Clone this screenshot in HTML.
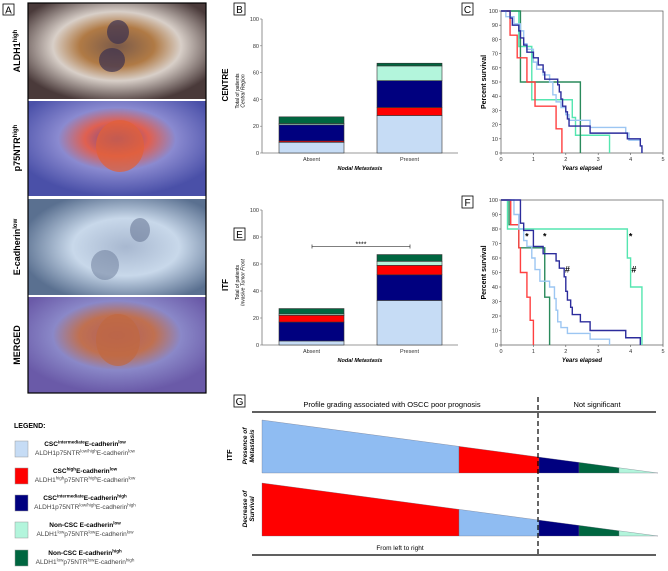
<!DOCTYPE html>
<html><head><meta charset="utf-8"><style>
body{margin:0;background:#fff}
svg{display:block;font-family:"Liberation Sans",sans-serif}
</style></head><body>
<svg id="fig" width="668" height="571" viewBox="0 0 668 571" xmlns="http://www.w3.org/2000/svg">
<defs>
<radialGradient id="g1" cx="50%" cy="45%" r="60%"><stop offset="0" stop-color="#7a5a4a"/><stop offset=".35" stop-color="#b07a45"/><stop offset=".6" stop-color="#d8cfc8"/><stop offset="1" stop-color="#4a3a3a"/></radialGradient>
<radialGradient id="g2" cx="50%" cy="40%" r="60%"><stop offset="0" stop-color="#6a4a9a"/><stop offset=".3" stop-color="#e06050"/><stop offset=".55" stop-color="#8a8ad0"/><stop offset="1" stop-color="#4a50a8"/></radialGradient>
<radialGradient id="g3" cx="55%" cy="50%" r="60%"><stop offset="0" stop-color="#a8b8d0"/><stop offset=".5" stop-color="#c8d8ea"/><stop offset="1" stop-color="#5a7090"/></radialGradient>
<radialGradient id="g4" cx="50%" cy="40%" r="60%"><stop offset="0" stop-color="#b06060"/><stop offset=".35" stop-color="#c07050"/><stop offset=".6" stop-color="#8a88c8"/><stop offset="1" stop-color="#6a5aa8"/></radialGradient>
</defs>
<g>
<rect x="3" y="4" width="11" height="11" fill="none" stroke="#000" stroke-width="0.8"/>
<text x="8.5" y="13.5" font-size="10" text-anchor="middle">A</text>
<rect x="28" y="3" width="178" height="96" fill="url(#g1)"/>
<ellipse cx="118" cy="32" rx="11" ry="12" fill="#3a3050" opacity=".7"/><ellipse cx="112" cy="60" rx="13" ry="12" fill="#3a3050" opacity=".7"/>
<rect x="28" y="101" width="178" height="95" fill="url(#g2)"/>
<ellipse cx="120" cy="146" rx="24" ry="26" fill="#e0603a" opacity=".75"/>
<rect x="28" y="199" width="178" height="96" fill="url(#g3)"/>
<ellipse cx="140" cy="230" rx="10" ry="12" fill="#6a7a98" opacity=".6"/><ellipse cx="105" cy="265" rx="14" ry="15" fill="#6a7a98" opacity=".5"/>
<rect x="28" y="297" width="178" height="96" fill="url(#g4)"/>
<ellipse cx="118" cy="340" rx="22" ry="26" fill="#c06840" opacity=".7"/>
<rect x="28" y="3" width="178" height="390" fill="none" stroke="#000" stroke-width="1.2"/>
<g font-size="9" font-weight="bold" text-anchor="middle">
<text transform="translate(20,51) rotate(-90)">ALDH1<tspan font-size="6" dy="-3">high</tspan></text>
<text transform="translate(20,148) rotate(-90)">p75NTR<tspan font-size="6" dy="-3">high</tspan></text>
<text transform="translate(20,247) rotate(-90)">E-cadherin<tspan font-size="6" dy="-3">low</tspan></text>
<text transform="translate(20,345) rotate(-90)">MERGED</text>
</g>
</g>
<g id="legend" font-size="6.5">
<text x="14" y="428" font-size="7" font-weight="bold">LEGEND:</text>
</g>
<g font-size="10">
<rect x="234" y="3" width="11" height="12" fill="none" stroke="#000" stroke-width=".8"/><text x="239.5" y="13" text-anchor="middle">B</text>
<rect x="462" y="3" width="11" height="12" fill="none" stroke="#000" stroke-width=".8"/><text x="467.5" y="13" text-anchor="middle">C</text>
<rect x="234" y="228" width="11" height="12" fill="none" stroke="#000" stroke-width=".8"/><text x="239.5" y="238" text-anchor="middle">E</text>
<rect x="462" y="196" width="11" height="12" fill="none" stroke="#000" stroke-width=".8"/><text x="467.5" y="206" text-anchor="middle">F</text>
<rect x="234" y="395" width="11" height="12" fill="none" stroke="#000" stroke-width=".8"/><text x="239.5" y="405" text-anchor="middle">G</text>
</g>
<text transform="translate(228,85) rotate(-90)" font-size="8" font-weight="bold" text-anchor="middle">CENTRE</text>
<text transform="translate(228,285) rotate(-90)" font-size="8" font-weight="bold" text-anchor="middle">ITF</text>
<g id="charts"></g>
<g id="gpanel"></g>
</svg>
<script>
const NS="http://www.w3.org/2000/svg";
const C=document.getElementById('charts');
function mk(tag,at,parent,txt){const e=document.createElementNS(NS,tag);for(const k in at)e.setAttribute(k,at[k]);if(txt!==undefined)e.textContent=txt;(parent||C).appendChild(e);return e;}

const barCategories=["Absent","Present"];
const barColors=["#c6dcf5","#ff0000","#00007f","#b3f5dc","#006640"];
const centreLightBlue=[8,28], centreRed=[1,6], centreNavy=[12,20], centreMint=[1,11], centreGreen=[5,2];
const itfLightBlue=[3,33], itfNavy=[14,19], itfRed=[5,7], itfMint=[1,3], itfGreen=[4,5];
const barTicks=[0,20,40,60,80,100];

function barChart(name,yTop,y0,stacks,order,sub,sig){
  const g=mk('g',{});  
  const y=v=>y0-v*(y0-yTop)/100;
  const xl=262,xr=458;
  const bx=i=>[279,377][i];
  mk('line',{x1:xl,y1:yTop,x2:xl,y2:y0,stroke:'#777','stroke-width':.8},g);
  mk('line',{x1:xl,y1:y0,x2:xr,y2:y0,stroke:'#777','stroke-width':.8},g);
  barTicks.forEach(t=>{mk('line',{x1:xl-2,y1:y(t),x2:xl,y2:y(t),stroke:'#777','stroke-width':.6},g);
    mk('text',{x:xl-3,y:y(t)+2,'font-size':5.5,'text-anchor':'end',fill:'#333'},g,t);});
  barCategories.forEach((c,i)=>{
    let acc=0;
    stacks.forEach((s,k)=>{const r=mk('rect',{x:bx(i),y:y(acc+s[i]),width:65,height:y(acc)-y(acc+s[i]),fill:barColors[order[k]],stroke:'#333','stroke-width':.6},g);
      
       acc+=s[i];});
    mk('text',{x:bx(i)+32.5,y:y0+8,'font-size':5.5,'text-anchor':'middle',fill:'#333'},g,c);
  });
  mk('text',{x:360,y:y0+17,'font-size':5.5,'font-weight':'bold','font-style':'italic','text-anchor':'middle'},g,'Nodal Metastasis');
  const t=mk('text',{transform:`translate(239,${(yTop+y0)/2+5}) rotate(-90)`,'font-size':5,'text-anchor':'middle'},g);
  mk('tspan',{x:0,dy:0},t,'Total of patients');mk('tspan',{x:0,dy:5.5,'font-style':'italic'},t,sub);
  if(sig){const sy=y(sig);mk('line',{x1:312,y1:sy,x2:410,y2:sy,stroke:'#333','stroke-width':.7},g);
    mk('line',{x1:312,y1:sy-2,x2:312,y2:sy+2,stroke:'#333','stroke-width':.7},g);mk('line',{x1:410,y1:sy-2,x2:410,y2:sy+2,stroke:'#333','stroke-width':.7},g);
    mk('text',{x:361,y:sy,'font-size':7,'text-anchor':'middle'},g,'****');}
}
barChart('bar-chart-centre',19,153,[centreLightBlue,centreRed,centreNavy,centreMint,centreGreen],[0,1,2,3,4],'Central Region',null);
barChart('bar-chart-itf',210,345,[itfLightBlue,itfNavy,itfRed,itfMint,itfGreen],[0,2,1,3,4],'Invasive Tumor Front',73);

const kmColors={lightblue:"#9cc6f2",navy:"#2c2c9c",mint:"#55e6b0",green:"#2a8a5c",red:"#ff4040"};
const cRedT=[0.28,0.5,0.8,1.05,1.7,1.88], cRedS=[83,67,50,33,17,0];
const cGreenT=[0.6,2.45], cGreenS=[50,0];
const cMintT=[0.55,0.95,2.2,2.3,3.35], cMintS=[75,37.5,25,12.5,0];
const cNavyT=[0.28,0.35,0.55,0.6,0.7,0.8,1.0,1.15,1.3,1.35,1.75,1.8,1.85,1.9,2.0,2.05,2.1,2.75,3.9,4.3,4.35], cNavyS=[95,90,86,81,76,71,67,62,57,52,48,43,38,33,29,24,19,14,10,5,0];
const cLbT=[0.15,0.4,0.6,0.7,0.8,1.0,1.1,1.3,1.5,1.6,1.7,1.85,2.0,2.1,2.75,3.85,3.95,4.3,4.35], cLbS=[96,91,86,77,73,64,59,55,50,41,36,32,27,23,18,14,9,5,0];
const fRedT=[0.3,0.55,0.6,0.8,0.9,1.0], fRedS=[83,67,50,33,17,0];
const fGreenT=[0.25,0.55,1.35,1.5], fGreenS=[83,67,33,0];
const fMintT=[0.2,3.9,4.0,4.35], fMintS=[80,60,40,0];
const fNavyT=[0.6,0.7,1.0,1.3,1.7,1.8,1.95,2.0,2.05,2.15,2.2,2.45,2.75,3.85,4.3], fNavyS=[84,79,68,63,58,53,47,37,31,26,21,16,10,5,0];
const fLbT=[0.4,0.55,0.7,0.8,0.95,1.05,1.2,1.5,1.65,1.7,1.75,1.85,2.05,2.75,3.35], fLbS=[90,80,72,68,60,52,44,40,32,24,16,12,8,4,0];
const kmXTicks=[0,1,2,3,4,5], kmYTicks=[0,10,20,30,40,50,60,70,80,90,100];
const fMarksT=[0.8,1.35,4.0,2.05,4.1], fMarksS=[75,75,75,52,52], fMarksL=["*","*","*","#","#"];

function km(name,yTop,y0,series,marks){
  const g=mk('g',{});  
  const X=t=>501+t*32.4, Y=s=>y0-s*(y0-yTop)/100;
  mk('rect',{x:X(0),y:Y(100),width:X(5)-X(0),height:Y(0)-Y(100),fill:'none',stroke:'#555','stroke-width':.7},g);
  kmYTicks.forEach(t=>{mk('line',{x1:X(0)-2,y1:Y(t),x2:X(0),y2:Y(t),stroke:'#555','stroke-width':.6},g);
    mk('text',{x:X(0)-3,y:Y(t)+2,'font-size':5.5,'text-anchor':'end',fill:'#333'},g,t);});
  kmXTicks.forEach(t=>{mk('line',{x1:X(t),y1:Y(0),x2:X(t),y2:Y(0)+2,stroke:'#555','stroke-width':.6},g);
    mk('text',{x:X(t),y:Y(0)+8,'font-size':5.5,'text-anchor':'middle',fill:'#333'},g,t);});
  mk('text',{x:582,y:Y(0)+17,'font-size':6,'font-weight':'bold','font-style':'italic','text-anchor':'middle'},g,'Years elapsed');
  mk('text',{transform:`translate(486,${(Y(0)+Y(100))/2}) rotate(-90)`,'font-size':7,'font-weight':'bold','text-anchor':'middle'},g,'Percent survival');
  series.forEach(([key,T,S])=>{let d=`M${X(0)},${Y(100)}`;
    T.forEach((t,i)=>{d+=` H${X(t)} V${Y(S[i])}`;});
    const p=mk('path',{d:d,fill:'none',stroke:kmColors[key],'stroke-width':1.4},g);
    
    });
  if(marks){marks[0].forEach((t,i)=>{mk('text',{x:X(t),y:Y(marks[1][i])+3,'font-size':9,'font-weight':'bold','text-anchor':'middle'},g,marks[2][i]);});}
}
km('km-chart-centre',11,153,[['mint',cMintT,cMintS],['green',cGreenT,cGreenS],['red',cRedT,cRedS],['lightblue',cLbT,cLbS],['navy',cNavyT,cNavyS]],null);
km('km-chart-itf',200,345,[['mint',fMintT,fMintS],['green',fGreenT,fGreenS],['red',fRedT,fRedS],['lightblue',fLbT,fLbS],['navy',fNavyT,fNavyS]],[fMarksT,fMarksS,fMarksL]);

const L=document.getElementById('legend');
const legendItems=[
 ["#c6dcf5",["CSC",["intermediate"],"E-cadherin",["low"]],["ALDH1p75NTR",["low/high"],"E-cadherin",["low"]]],
 ["#ff0000",["CSC",["high"],"E-cadherin",["low"]],["ALDH1",["high"],"p75NTR",["high"],"E-cadherin",["low"]]],
 ["#00007f",["CSC",["intermediate"],"E-cadherin",["high"]],["ALDH1p75NTR",["low/high"],"E-cadherin",["high"]]],
 ["#b3f5dc",["Non-CSC E-cadherin",["low"]],["ALDH1",["low"],"p75NTR",["low"],"E-cadherin",["low"]]],
 ["#006640",["Non-CSC E-cadherin",["high"]],["ALDH1",["low"],"p75NTR",["low"],"E-cadherin",["high"]]]];
const legTop=[441,468,495,522,550];
legendItems.forEach((it,i)=>{
  const r=mk('rect',{x:15,y:legTop[i],width:13,height:16,fill:it[0],stroke:'#999','stroke-width':.5},L);
  
  
  [[it[1],legTop[i]+5,'bold'],[it[2],legTop[i]+14,'normal']].forEach(([parts,yy,w])=>{
    const t=mk('text',{x:85,y:yy,'text-anchor':'middle','font-weight':w,fill:w==='bold'?'#000':'#444'},L);
    let up=false;
    parts.forEach(p=>{if(Array.isArray(p)){mk('tspan',{'font-size':4.5,dy:-2.5},t,p[0]);up=true;}else{mk('tspan',{dy:up?2.5:0},t,p);up=false;}});
    
    
  });
});

const G=document.getElementById('gpanel');
const gTopOrder=["#8fbcf2","#ff0000","#00007f","#006640","#b3f5dc"];
const gBotOrder=["#ff0000","#8fbcf2","#00007f","#006640","#b3f5dc"];
const gBreaks=[262,459,539,579,619,658];
function tri(yT,yB,cols,nm){
  const h=x=>yT+(x-262)*(yB-yT)/(658-262);
  cols.forEach((c,i)=>{const a=gBreaks[i],b=gBreaks[i+1];
    const p=mk('polygon',{points:`${a},${yB} ${a},${h(a)} ${b},${h(b)} ${b},${yB}`,fill:c,stroke:'#667','stroke-width':.3},G);
    
    });
}
tri(420,473,gTopOrder,'metastasis');
tri(483,536,gBotOrder,'survival');
mk('line',{x1:252,y1:412,x2:656,y2:412,stroke:'#000','stroke-width':1.3},G);
mk('line',{x1:252,y1:555,x2:656,y2:555,stroke:'#000','stroke-width':1.3},G);
mk('line',{x1:538,y1:397,x2:538,y2:557,stroke:'#000','stroke-width':1.2,'stroke-dasharray':'5,3'},G);
mk('text',{x:392,y:407,'font-size':7.5,'text-anchor':'middle'},G,'Profile grading associated with OSCC poor prognosis');
mk('text',{x:597,y:407,'font-size':7.5,'text-anchor':'middle'},G,'Not significant');
mk('text',{x:400,y:550,'font-size':6.5,'text-anchor':'middle'},G,'From left to right');
mk('text',{transform:'translate(232,455) rotate(-90)','font-size':7.5,'font-weight':'bold','text-anchor':'middle'},G,'ITF');
const t1=mk('text',{transform:'translate(247,446) rotate(-90)','font-size':6.5,'font-weight':'bold','font-style':'italic','text-anchor':'middle'},G);
mk('tspan',{x:0,dy:0},t1,'Presence of');mk('tspan',{x:0,dy:7},t1,'Metastasis');
const t2=mk('text',{transform:'translate(247,509) rotate(-90)','font-size':6.5,'font-weight':'bold','font-style':'italic','text-anchor':'middle'},G);
mk('tspan',{x:0,dy:0},t2,'Decrease of');mk('tspan',{x:0,dy:7},t2,'Survival');
</script>
</body></html>
